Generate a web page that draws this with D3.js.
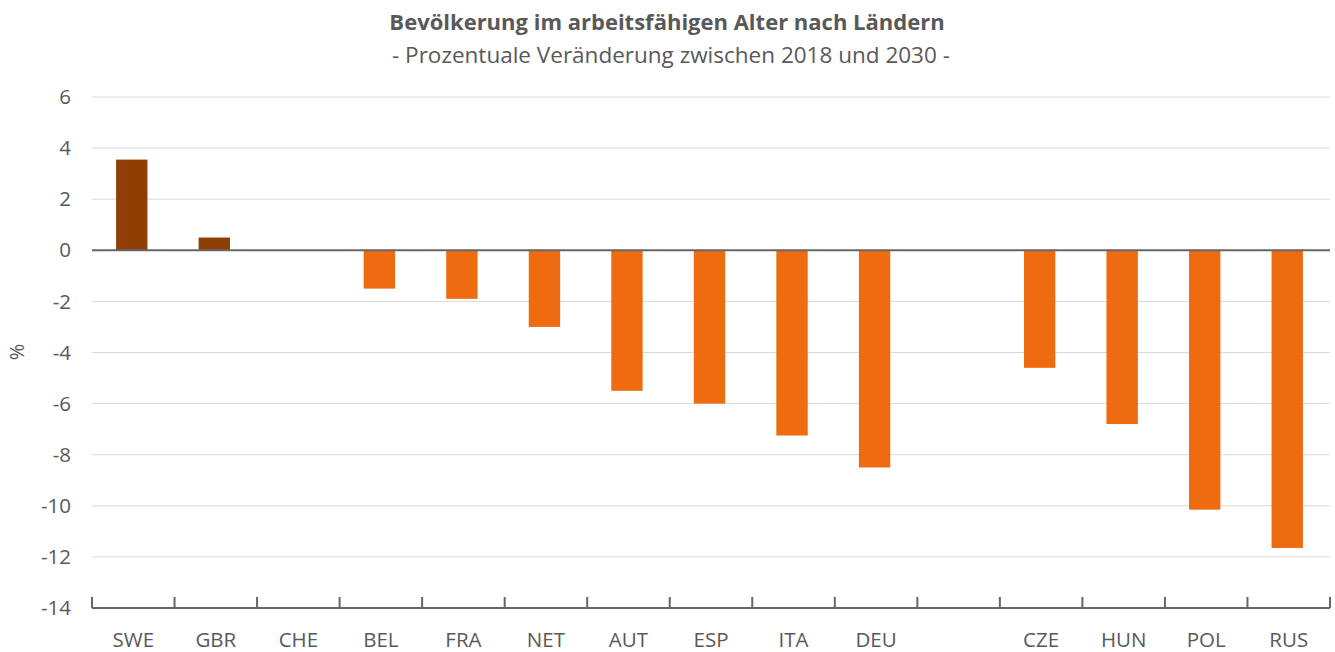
<!DOCTYPE html>
<html><head><meta charset="utf-8">
<script src="https://cdn.jsdelivr.net/npm/d3@7/dist/d3.min.js"></script>
<style>body{margin:0;background:#fff}svg{display:block}</style>
</head><body>
<svg id="chart" width="1335" height="652"></svg>
<script>
const categories = ["SWE","GBR","CHE","BEL","FRA","NET","AUT","ESP","ITA","DEU","","CZE","HUN","POL","RUS"];
const values = [3.55, 0.5, 0, -1.5, -1.9, -3.0, -5.5, -6.0, -7.25, -8.5, null, -4.6, -6.8, -10.15, -11.65];
const highlight = ["SWE","GBR"];
const yTicks = [6,4,2,0,-2,-4,-6,-8,-10,-12,-14];
const title = "Bevölkerung im arbeitsfähigen Alter nach Ländern";
const subtitle = "- Prozentuale Veränderung zwischen 2018 und 2030 -";
const yLabel = "%";

(function(){
const svg = d3.select("#chart");
const font = "'Open Sans', sans-serif";
const mLeft = 92, mRight = 1330, mTop = 97, mBottom = 608;

const x = d3.scaleBand().domain(categories).range([mLeft, mRight]).paddingInner(0.62).paddingOuter(0.31);
const y = d3.scaleLinear().domain([-14, 6]).range([mBottom, mTop]);

// gridlines
svg.append("g").selectAll("line").data(yTicks.filter(d => d !== 0 && d !== -14)).join("line")
  .attr("x1", mLeft).attr("x2", mRight)
  .attr("y1", d => y(d)).attr("y2", d => y(d))
  .attr("stroke", "#d9d9d9").attr("stroke-width", 1);

// y labels
svg.append("g").selectAll("text").data(yTicks).join("text")
  .attr("x", 71).attr("y", d => y(d)).attr("dy", "0.35em")
  .attr("text-anchor", "end").attr("font-family", font).attr("font-size", 20.5)
  .attr("fill", "#595959").text(d => d);

// bars
const data = categories.map((c, i) => ({c, v: values[i]})).filter(d => d.v !== null && d.v !== 0);
svg.append("g").selectAll("rect").data(data).join("rect")
  .attr("x", d => x(d.c) - 1.5).attr("width", x.bandwidth())
  .attr("y", d => y(Math.max(0, d.v))).attr("height", d => Math.abs(y(d.v) - y(0)))
  .attr("fill", d => highlight.includes(d.c) ? "#8f3f03" : "#ee6b10");

// zero line
svg.append("line").attr("x1", mLeft).attr("x2", mRight).attr("y1", y(0)).attr("y2", y(0))
  .attr("stroke", "#666").attr("stroke-width", 2);

// bottom axis
const xAxis = d3.axisBottom(x).tickSize(0).tickFormat(d => d);
const gx = svg.append("g").attr("transform", `translate(0,${mBottom})`).call(xAxis);
gx.select(".domain").remove();
gx.selectAll("text").attr("font-family", font).attr("font-size", 20.5).attr("fill", "#595959").attr("dy", 0).attr("y", 39);
svg.append("line").attr("x1", mLeft).attr("x2", mRight).attr("y1", mBottom).attr("y2", mBottom)
  .attr("stroke", "#666").attr("stroke-width", 2);
const edges = categories.map(c => x(c) - x.step() * x.paddingInner() / 2).concat([mRight]);
svg.append("g").selectAll("line").data(edges).join("line")
  .attr("x1", d => d).attr("x2", d => d).attr("y1", mBottom - 11).attr("y2", mBottom)
  .attr("stroke", "#666").attr("stroke-width", 2);

// titles
svg.append("text").attr("x", 667).attr("y", 30).attr("text-anchor", "middle")
  .attr("font-family", font).attr("font-size", 22).attr("font-weight", "bold").attr("fill", "#595959").text(title);
svg.append("text").attr("x", 671).attr("y", 63).attr("text-anchor", "middle")
  .attr("font-family", font).attr("font-size", 22.5).attr("fill", "#595959").text(subtitle);
svg.append("text").attr("transform", "translate(24,352) rotate(-90)").attr("text-anchor", "middle")
  .attr("font-family", font).attr("font-size", 20).attr("fill", "#595959").text(yLabel);
})();
</script>
</body></html>
